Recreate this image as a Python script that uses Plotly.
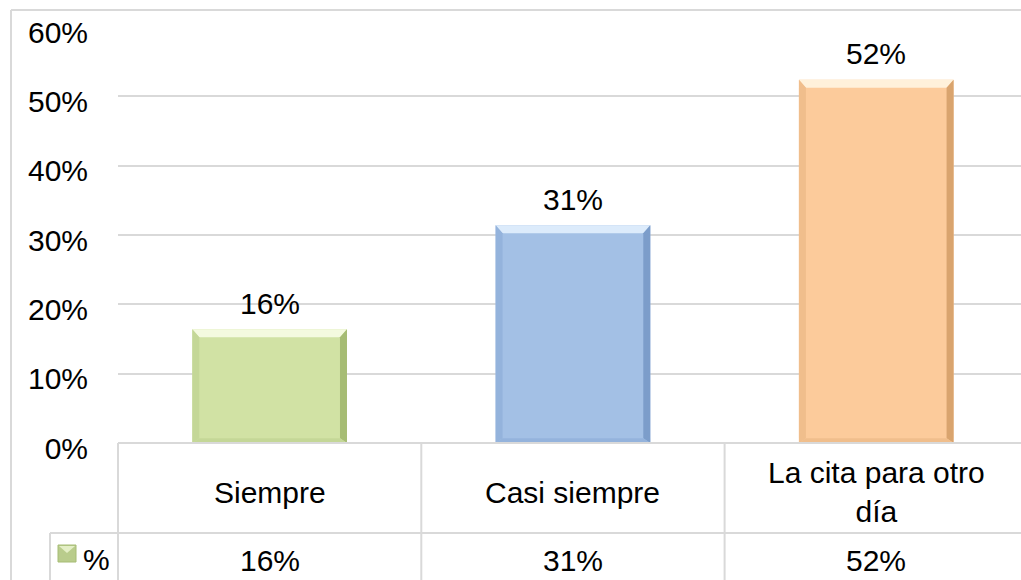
import plotly.graph_objects as go

categories = ["Siempre", "Casi siempre", "La cita para otro<br>día"]
values = [16.4, 31.4, 52.4]
series_name = "%"
y_ticks = [0, 10, 20, 30, 40, 50, 60]

main_colors = ["#D1E2A4", "#A3C0E5", "#FCCB9B"]
light_colors = ["#F4FADF", "#DCEBFB", "#FFF1DA"]
dark_colors = ["#A6BC74", "#7C9DCA", "#D9A46E"]
side_colors = ["#C4D797", "#94B3DC", "#F0BE8C"]

FONT = "Liberation Sans, Arial, sans-serif"
FS = 30
W, H = 1021, 580
L, R, T, B = 118, 0, 27, 137
plot_w = W - L - R
plot_h = H - T - B
cat_px = 303.3
x_lo = -0.5
x_hi = x_lo + plot_w / cat_px
y_max = 60
bar_w = 0.51

def px_x(px):
    return (px - L) / plot_w

def px_y(py):
    return (H - B - py) / plot_h

fig = go.Figure()
xs = list(range(len(categories)))
fig.add_trace(go.Bar(
    x=xs, y=values, width=bar_w,
    marker=dict(color=main_colors, line=dict(width=0)),
    name=series_name, showlegend=False, hoverinfo="skip",
))

shapes = []
annotations = []
bx = 7 / cat_px
by = 8 / (plot_h / y_max)
for i, v in enumerate(values):
    x0, x1 = i - bar_w / 2, i + bar_w / 2
    shapes.append(dict(type="path", xref="x", yref="y", layer="above",
        path=f"M{x0},{v} L{x1},{v} L{x1-bx},{v-by} L{x0+bx},{v-by} Z",
        fillcolor=light_colors[i], line=dict(width=0)))
    shapes.append(dict(type="path", xref="x", yref="y", layer="above",
        path=f"M{x1},{v} L{x1},0 L{x1-bx},{by*0.6} L{x1-bx},{v-by} Z",
        fillcolor=dark_colors[i], line=dict(width=0)))
    shapes.append(dict(type="path", xref="x", yref="y", layer="above",
        path=f"M{x0},{v} L{x0},0 L{x0+bx},{by*0.6} L{x0+bx},{v-by} Z",
        fillcolor=side_colors[i], line=dict(width=0)))
    shapes.append(dict(type="path", xref="x", yref="y", layer="above",
        path=f"M{x0},0 L{x1},0 L{x1-bx},{by*0.6} L{x0+bx},{by*0.6} Z",
        fillcolor=side_colors[i], line=dict(width=0)))
    annotations.append(dict(x=i, y=v, xref="x", yref="y", text=f"{v:.0f}%",
        showarrow=False, yanchor="middle", yshift=26,
        font=dict(family=FONT, size=FS, color="#000000")))
    annotations.append(dict(x=i, y=0, xref="x", yref="paper", text=categories[i],
        showarrow=False, yanchor="middle", yshift=-49,
        font=dict(family=FONT, size=FS, color="#000000")))
    annotations.append(dict(x=i, y=0, xref="x", yref="paper", text=f"{v:.0f}%",
        showarrow=False, yanchor="middle", yshift=-117,
        font=dict(family=FONT, size=FS, color="#000000")))

grid = "#D9D9D9"
shapes.append(dict(type="line", xref="paper", yref="paper",
    x0=px_x(11), x1=px_x(W + 5), y0=px_y(10), y1=px_y(10), line=dict(color=grid, width=2)))
shapes.append(dict(type="line", xref="paper", yref="paper",
    x0=px_x(11), x1=px_x(11), y0=px_y(10), y1=px_y(H + 5), line=dict(color=grid, width=2)))
shapes.append(dict(type="line", xref="paper", yref="paper",
    x0=0, x1=1, y0=0, y1=0, line=dict(color=grid, width=2)))
shapes.append(dict(type="line", xref="paper", yref="paper",
    x0=px_x(50), x1=1, y0=px_y(533), y1=px_y(533), line=dict(color=grid, width=2)))
shapes.append(dict(type="line", xref="paper", yref="paper",
    x0=0, x1=0, y0=0, y1=px_y(H + 5), line=dict(color=grid, width=2)))
shapes.append(dict(type="line", xref="paper", yref="paper",
    x0=px_x(50), x1=px_x(50), y0=px_y(533), y1=px_y(H + 5), line=dict(color=grid, width=2)))
for k in range(1, len(categories)):
    shapes.append(dict(type="line", xref="x", yref="paper",
        x0=k - 0.5, x1=k - 0.5, y0=0, y1=px_y(H + 5), line=dict(color=grid, width=2)))
shapes.append(dict(type="rect", xref="paper", yref="paper",
    x0=px_x(58), x1=px_x(76), y0=px_y(545), y1=px_y(562),
    fillcolor="#B9CC8C", line=dict(color="#A6BC74", width=1)))
shapes.append(dict(type="path", xref="paper", yref="paper",
    path=f"M{px_x(59)},{px_y(546)} L{px_x(75)},{px_y(546)} L{px_x(67)},{px_y(553)} Z",
    fillcolor="#E4EFC6", line=dict(width=0)))
annotations.append(dict(x=px_x(96), y=px_y(559), xref="paper", yref="paper",
    text=series_name, showarrow=False, xanchor="center", yanchor="middle",
    font=dict(family=FONT, size=FS, color="#000000")))

fig.update_layout(
    width=W, height=H,
    margin=dict(l=L, r=R, t=T, b=B, pad=0),
    paper_bgcolor="white", plot_bgcolor="white",
    shapes=shapes, annotations=annotations,
    showlegend=False, bargap=0.49,
    font=dict(family=FONT, size=FS, color="#000000"),
)
fig.update_xaxes(range=[x_lo, x_hi], showticklabels=False, showgrid=False,
                 zeroline=False, showline=False, ticks="", fixedrange=True)
fig.update_yaxes(range=[0, y_max], tickvals=y_ticks,
                 ticktext=[f"{t}%" for t in y_ticks],
                 showgrid=True, gridcolor=grid, gridwidth=2,
                 zeroline=False, showline=False,
                 ticks="outside", ticklen=23, tickcolor="rgba(0,0,0,0)",
                 ticklabelshift=5,
                 tickfont=dict(family=FONT, size=FS, color="#000000"),
                 fixedrange=True)

fig.write_html("out.html", config={"displayModeBar": False},
               post_script="document.body.style.margin='0';document.body.style.overflow='hidden';")
